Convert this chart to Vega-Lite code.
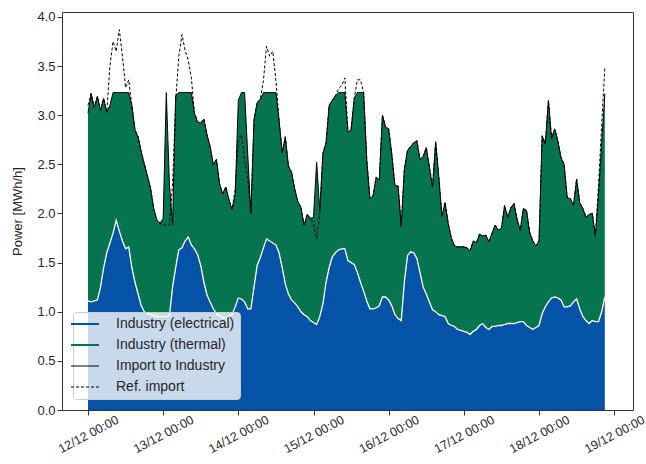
{
  "$schema": "https://vega.github.io/schema/vega-lite/v6.json",
  "width": 571,
  "height": 398,
  "autosize": {"type": "none"},
  "padding": {"left": 62, "top": 12, "right": 13, "bottom": 54},
  "background": "white",
  "config": {
    "font": "Liberation Sans",
    "view": {"stroke": "#333333", "strokeWidth": 1},
    "axis": {
      "grid": false,
      "domain": false,
      "tickColor": "#333333",
      "tickSize": 5,
      "labelColor": "#262626",
      "labelFontSize": 13,
      "titleColor": "#262626",
      "titleFontSize": 13,
      "titleFontWeight": "normal"
    }
  },
  "data": {
    "values": [
      {"time": "2021-12-12T00:00", "electrical": 1.11, "import": 3.02, "ref": 3.1},
      {"time": "2021-12-12T01:00", "electrical": 1.10, "import": 3.22, "ref": 3.22},
      {"time": "2021-12-12T02:00", "electrical": 1.11, "import": 3.08, "ref": 3.08},
      {"time": "2021-12-12T03:00", "electrical": 1.12, "import": 3.19, "ref": 3.19},
      {"time": "2021-12-12T04:00", "electrical": 1.25, "import": 3.05, "ref": 3.05},
      {"time": "2021-12-12T05:00", "electrical": 1.45, "import": 3.17, "ref": 3.17},
      {"time": "2021-12-12T06:00", "electrical": 1.6, "import": 3.03, "ref": 3.03},
      {"time": "2021-12-12T07:00", "electrical": 1.7, "import": 3.1, "ref": 3.5},
      {"time": "2021-12-12T08:00", "electrical": 1.8, "import": 3.23, "ref": 3.75},
      {"time": "2021-12-12T09:00", "electrical": 1.93, "import": 3.23, "ref": 3.65},
      {"time": "2021-12-12T10:00", "electrical": 1.82, "import": 3.23, "ref": 3.87},
      {"time": "2021-12-12T11:00", "electrical": 1.72, "import": 3.23, "ref": 3.6},
      {"time": "2021-12-12T12:00", "electrical": 1.64, "import": 3.23, "ref": 3.28},
      {"time": "2021-12-12T13:00", "electrical": 1.66, "import": 3.23, "ref": 3.36},
      {"time": "2021-12-12T14:00", "electrical": 1.45, "import": 3.1, "ref": 3.1},
      {"time": "2021-12-12T15:00", "electrical": 1.3, "import": 2.85, "ref": 2.85},
      {"time": "2021-12-12T16:00", "electrical": 1.18, "import": 2.78, "ref": 2.78},
      {"time": "2021-12-12T17:00", "electrical": 1.06, "import": 2.63, "ref": 2.63},
      {"time": "2021-12-12T18:00", "electrical": 1.0, "import": 2.5, "ref": 2.5},
      {"time": "2021-12-12T19:00", "electrical": 0.98, "import": 2.38, "ref": 2.38},
      {"time": "2021-12-12T20:00", "electrical": 0.97, "import": 2.25, "ref": 2.25},
      {"time": "2021-12-12T21:00", "electrical": 0.96, "import": 2.05, "ref": 2.05},
      {"time": "2021-12-12T22:00", "electrical": 0.95, "import": 1.93, "ref": 1.93},
      {"time": "2021-12-12T23:00", "electrical": 0.95, "import": 1.9, "ref": 1.9},
      {"time": "2021-12-13T00:00", "electrical": 0.95, "import": 1.95, "ref": 1.88},
      {"time": "2021-12-13T01:00", "electrical": 0.95, "import": 3.23, "ref": 1.88},
      {"time": "2021-12-13T02:00", "electrical": 0.96, "import": 2.3, "ref": 1.88},
      {"time": "2021-12-13T03:00", "electrical": 1.25, "import": 1.88, "ref": 2.3},
      {"time": "2021-12-13T04:00", "electrical": 1.45, "import": 3.2, "ref": 3.15},
      {"time": "2021-12-13T05:00", "electrical": 1.63, "import": 3.23, "ref": 3.6},
      {"time": "2021-12-13T06:00", "electrical": 1.65, "import": 3.23, "ref": 3.82},
      {"time": "2021-12-13T07:00", "electrical": 1.72, "import": 3.23, "ref": 3.66},
      {"time": "2021-12-13T08:00", "electrical": 1.76, "import": 3.23, "ref": 3.56},
      {"time": "2021-12-13T09:00", "electrical": 1.68, "import": 3.23, "ref": 3.38},
      {"time": "2021-12-13T10:00", "electrical": 1.64, "import": 3.02, "ref": 3.02},
      {"time": "2021-12-13T11:00", "electrical": 1.58, "import": 2.93, "ref": 2.93},
      {"time": "2021-12-13T12:00", "electrical": 1.47, "import": 2.92, "ref": 2.92},
      {"time": "2021-12-13T13:00", "electrical": 1.3, "import": 2.96, "ref": 2.96},
      {"time": "2021-12-13T14:00", "electrical": 1.17, "import": 2.8, "ref": 2.8},
      {"time": "2021-12-13T15:00", "electrical": 1.1, "import": 2.68, "ref": 2.68},
      {"time": "2021-12-13T16:00", "electrical": 1.03, "import": 2.5, "ref": 2.5},
      {"time": "2021-12-13T17:00", "electrical": 0.98, "import": 2.55, "ref": 2.55},
      {"time": "2021-12-13T18:00", "electrical": 0.96, "import": 2.3, "ref": 2.3},
      {"time": "2021-12-13T19:00", "electrical": 0.94, "import": 2.2, "ref": 2.2},
      {"time": "2021-12-13T20:00", "electrical": 0.94, "import": 2.27, "ref": 2.27},
      {"time": "2021-12-13T21:00", "electrical": 0.95, "import": 2.14, "ref": 2.14},
      {"time": "2021-12-13T22:00", "electrical": 0.97, "import": 2.04, "ref": 2.04},
      {"time": "2021-12-13T23:00", "electrical": 1.05, "import": 2.2, "ref": 2.25},
      {"time": "2021-12-14T00:00", "electrical": 1.14, "import": 3.15, "ref": 2.75},
      {"time": "2021-12-14T01:00", "electrical": 1.13, "import": 3.23, "ref": 2.8},
      {"time": "2021-12-14T02:00", "electrical": 1.1, "import": 3.23, "ref": 2.55},
      {"time": "2021-12-14T03:00", "electrical": 1.03, "import": 2.6, "ref": 2.35},
      {"time": "2021-12-14T04:00", "electrical": 1.03, "import": 2.0, "ref": 2.0},
      {"time": "2021-12-14T05:00", "electrical": 1.25, "import": 2.95, "ref": 2.95},
      {"time": "2021-12-14T06:00", "electrical": 1.47, "import": 3.13, "ref": 3.13},
      {"time": "2021-12-14T07:00", "electrical": 1.55, "import": 3.16, "ref": 3.16},
      {"time": "2021-12-14T08:00", "electrical": 1.65, "import": 3.23, "ref": 3.35},
      {"time": "2021-12-14T09:00", "electrical": 1.74, "import": 3.23, "ref": 3.7},
      {"time": "2021-12-14T10:00", "electrical": 1.72, "import": 3.23, "ref": 3.6},
      {"time": "2021-12-14T11:00", "electrical": 1.7, "import": 3.23, "ref": 3.65},
      {"time": "2021-12-14T12:00", "electrical": 1.68, "import": 3.23, "ref": 3.35},
      {"time": "2021-12-14T13:00", "electrical": 1.6, "import": 2.95, "ref": 2.95},
      {"time": "2021-12-14T14:00", "electrical": 1.45, "import": 2.62, "ref": 2.62},
      {"time": "2021-12-14T15:00", "electrical": 1.28, "import": 2.78, "ref": 2.78},
      {"time": "2021-12-14T16:00", "electrical": 1.18, "import": 2.48, "ref": 2.48},
      {"time": "2021-12-14T17:00", "electrical": 1.12, "import": 2.42, "ref": 2.42},
      {"time": "2021-12-14T18:00", "electrical": 1.09, "import": 2.25, "ref": 2.25},
      {"time": "2021-12-14T19:00", "electrical": 1.05, "import": 2.12, "ref": 2.12},
      {"time": "2021-12-14T20:00", "electrical": 1.0, "import": 2.06, "ref": 2.06},
      {"time": "2021-12-14T21:00", "electrical": 0.97, "import": 1.88, "ref": 1.88},
      {"time": "2021-12-14T22:00", "electrical": 0.95, "import": 1.99, "ref": 1.99},
      {"time": "2021-12-14T23:00", "electrical": 0.91, "import": 1.95, "ref": 1.95},
      {"time": "2021-12-15T00:00", "electrical": 0.89, "import": 1.96, "ref": 1.9},
      {"time": "2021-12-15T01:00", "electrical": 0.87, "import": 2.52, "ref": 1.74},
      {"time": "2021-12-15T02:00", "electrical": 0.95, "import": 2.03, "ref": 2.0},
      {"time": "2021-12-15T03:00", "electrical": 1.08, "import": 2.61, "ref": 2.61},
      {"time": "2021-12-15T04:00", "electrical": 1.3, "import": 2.72, "ref": 2.72},
      {"time": "2021-12-15T05:00", "electrical": 1.45, "import": 3.1, "ref": 3.1},
      {"time": "2021-12-15T06:00", "electrical": 1.56, "import": 3.15, "ref": 3.15},
      {"time": "2021-12-15T07:00", "electrical": 1.6, "import": 3.2, "ref": 3.2},
      {"time": "2021-12-15T08:00", "electrical": 1.63, "import": 3.23, "ref": 3.27},
      {"time": "2021-12-15T09:00", "electrical": 1.64, "import": 3.23, "ref": 3.3},
      {"time": "2021-12-15T10:00", "electrical": 1.64, "import": 3.23, "ref": 3.38},
      {"time": "2021-12-15T11:00", "electrical": 1.52, "import": 2.83, "ref": 2.83},
      {"time": "2021-12-15T12:00", "electrical": 1.5, "import": 2.85, "ref": 2.85},
      {"time": "2021-12-15T13:00", "electrical": 1.48, "import": 3.17, "ref": 3.17},
      {"time": "2021-12-15T14:00", "electrical": 1.4, "import": 3.23, "ref": 3.36},
      {"time": "2021-12-15T15:00", "electrical": 1.3, "import": 3.23, "ref": 3.36},
      {"time": "2021-12-15T16:00", "electrical": 1.21, "import": 3.23, "ref": 3.23},
      {"time": "2021-12-15T17:00", "electrical": 1.11, "import": 2.55, "ref": 2.55},
      {"time": "2021-12-15T18:00", "electrical": 1.03, "import": 2.15, "ref": 2.15},
      {"time": "2021-12-15T19:00", "electrical": 1.03, "import": 2.18, "ref": 2.18},
      {"time": "2021-12-15T20:00", "electrical": 1.04, "import": 2.37, "ref": 2.37},
      {"time": "2021-12-15T21:00", "electrical": 1.06, "import": 2.34, "ref": 2.34},
      {"time": "2021-12-15T22:00", "electrical": 1.15, "import": 3.0, "ref": 3.0},
      {"time": "2021-12-15T23:00", "electrical": 1.15, "import": 2.88, "ref": 2.88},
      {"time": "2021-12-16T00:00", "electrical": 1.12, "import": 2.86, "ref": 2.86},
      {"time": "2021-12-16T01:00", "electrical": 1.06, "import": 2.6, "ref": 2.6},
      {"time": "2021-12-16T02:00", "electrical": 0.97, "import": 2.28, "ref": 2.28},
      {"time": "2021-12-16T03:00", "electrical": 0.93, "import": 2.28, "ref": 2.28},
      {"time": "2021-12-16T04:00", "electrical": 0.91, "import": 1.87, "ref": 1.87},
      {"time": "2021-12-16T05:00", "electrical": 1.3, "import": 2.45, "ref": 2.45},
      {"time": "2021-12-16T06:00", "electrical": 1.57, "import": 2.64, "ref": 2.64},
      {"time": "2021-12-16T07:00", "electrical": 1.61, "import": 2.68, "ref": 2.68},
      {"time": "2021-12-16T08:00", "electrical": 1.6, "import": 2.72, "ref": 2.72},
      {"time": "2021-12-16T09:00", "electrical": 1.54, "import": 2.74, "ref": 2.74},
      {"time": "2021-12-16T10:00", "electrical": 1.4, "import": 2.55, "ref": 2.55},
      {"time": "2021-12-16T11:00", "electrical": 1.25, "import": 2.58, "ref": 2.58},
      {"time": "2021-12-16T12:00", "electrical": 1.18, "import": 2.67, "ref": 2.67},
      {"time": "2021-12-16T13:00", "electrical": 1.1, "import": 2.47, "ref": 2.47},
      {"time": "2021-12-16T14:00", "electrical": 1.02, "import": 2.27, "ref": 2.27},
      {"time": "2021-12-16T15:00", "electrical": 1.0, "import": 2.73, "ref": 2.73},
      {"time": "2021-12-16T16:00", "electrical": 0.97, "import": 2.37, "ref": 2.37},
      {"time": "2021-12-16T17:00", "electrical": 0.96, "import": 1.97, "ref": 1.97},
      {"time": "2021-12-16T18:00", "electrical": 0.95, "import": 2.11, "ref": 2.11},
      {"time": "2021-12-16T19:00", "electrical": 0.88, "import": 1.9, "ref": 1.9},
      {"time": "2021-12-16T20:00", "electrical": 0.86, "import": 1.75, "ref": 1.75},
      {"time": "2021-12-16T21:00", "electrical": 0.85, "import": 1.67, "ref": 1.67},
      {"time": "2021-12-16T22:00", "electrical": 0.82, "import": 1.66, "ref": 1.66},
      {"time": "2021-12-16T23:00", "electrical": 0.81, "import": 1.66, "ref": 1.66},
      {"time": "2021-12-17T00:00", "electrical": 0.8, "import": 1.66, "ref": 1.66},
      {"time": "2021-12-17T01:00", "electrical": 0.79, "import": 1.65, "ref": 1.65},
      {"time": "2021-12-17T02:00", "electrical": 0.77, "import": 1.62, "ref": 1.62},
      {"time": "2021-12-17T03:00", "electrical": 0.8, "import": 1.72, "ref": 1.72},
      {"time": "2021-12-17T04:00", "electrical": 0.82, "import": 1.7, "ref": 1.7},
      {"time": "2021-12-17T05:00", "electrical": 0.86, "import": 1.79, "ref": 1.79},
      {"time": "2021-12-17T06:00", "electrical": 0.88, "import": 1.77, "ref": 1.77},
      {"time": "2021-12-17T07:00", "electrical": 0.84, "import": 1.78, "ref": 1.78},
      {"time": "2021-12-17T08:00", "electrical": 0.82, "import": 1.71, "ref": 1.71},
      {"time": "2021-12-17T09:00", "electrical": 0.85, "import": 1.8, "ref": 1.8},
      {"time": "2021-12-17T10:00", "electrical": 0.85, "import": 1.88, "ref": 1.88},
      {"time": "2021-12-17T11:00", "electrical": 0.86, "import": 1.83, "ref": 1.83},
      {"time": "2021-12-17T12:00", "electrical": 0.86, "import": 1.85, "ref": 1.85},
      {"time": "2021-12-17T13:00", "electrical": 0.87, "import": 2.08, "ref": 2.08},
      {"time": "2021-12-17T14:00", "electrical": 0.88, "import": 1.96, "ref": 1.96},
      {"time": "2021-12-17T15:00", "electrical": 0.88, "import": 2.06, "ref": 2.06},
      {"time": "2021-12-17T16:00", "electrical": 0.88, "import": 2.1, "ref": 2.1},
      {"time": "2021-12-17T17:00", "electrical": 0.89, "import": 1.94, "ref": 1.94},
      {"time": "2021-12-17T18:00", "electrical": 0.9, "import": 1.83, "ref": 1.83},
      {"time": "2021-12-17T19:00", "electrical": 0.9, "import": 2.05, "ref": 2.05},
      {"time": "2021-12-17T20:00", "electrical": 0.86, "import": 2.03, "ref": 2.03},
      {"time": "2021-12-17T21:00", "electrical": 0.84, "import": 1.81, "ref": 1.81},
      {"time": "2021-12-17T22:00", "electrical": 0.82, "import": 1.72, "ref": 1.72},
      {"time": "2021-12-17T23:00", "electrical": 0.84, "import": 1.67, "ref": 1.67},
      {"time": "2021-12-18T00:00", "electrical": 0.86, "import": 1.72, "ref": 1.72},
      {"time": "2021-12-18T01:00", "electrical": 0.98, "import": 2.79, "ref": 2.79},
      {"time": "2021-12-18T02:00", "electrical": 1.05, "import": 2.71, "ref": 2.71},
      {"time": "2021-12-18T03:00", "electrical": 1.1, "import": 3.15, "ref": 3.15},
      {"time": "2021-12-18T04:00", "electrical": 1.14, "import": 2.76, "ref": 2.76},
      {"time": "2021-12-18T05:00", "electrical": 1.15, "import": 2.86, "ref": 2.86},
      {"time": "2021-12-18T06:00", "electrical": 1.14, "import": 2.74, "ref": 2.74},
      {"time": "2021-12-18T07:00", "electrical": 1.12, "import": 2.57, "ref": 2.57},
      {"time": "2021-12-18T08:00", "electrical": 1.05, "import": 2.5, "ref": 2.5},
      {"time": "2021-12-18T09:00", "electrical": 1.05, "import": 2.16, "ref": 2.16},
      {"time": "2021-12-18T10:00", "electrical": 1.06, "import": 2.15, "ref": 2.15},
      {"time": "2021-12-18T11:00", "electrical": 1.1, "import": 2.08, "ref": 2.08},
      {"time": "2021-12-18T12:00", "electrical": 1.13, "import": 2.35, "ref": 2.35},
      {"time": "2021-12-18T13:00", "electrical": 1.03, "import": 2.11, "ref": 2.11},
      {"time": "2021-12-18T14:00", "electrical": 0.95, "import": 2.05, "ref": 2.05},
      {"time": "2021-12-18T15:00", "electrical": 0.91, "import": 1.96, "ref": 1.96},
      {"time": "2021-12-18T16:00", "electrical": 0.88, "import": 1.99, "ref": 1.99},
      {"time": "2021-12-18T17:00", "electrical": 0.91, "import": 2.0, "ref": 2.0},
      {"time": "2021-12-18T18:00", "electrical": 0.9, "import": 1.77, "ref": 1.77},
      {"time": "2021-12-18T19:00", "electrical": 0.9, "import": 2.2, "ref": 2.3},
      {"time": "2021-12-18T20:00", "electrical": 1.0, "import": 2.72, "ref": 2.9},
      {"time": "2021-12-18T21:00", "electrical": 1.15, "import": 3.22, "ref": 3.48}
    ]
  },
  "encoding": {
    "x": {
      "field": "time",
      "type": "temporal",
      "scale": {
        "domain": [
          {"year": 2021, "month": 12, "date": 11, "hours": 15, "minutes": 42},
          {"year": 2021, "month": 12, "date": 19, "hours": 6, "minutes": 0}
        ]
      },
      "axis": {
        "title": null,
        "values": [
          {"year": 2021, "month": 12, "date": 12},
          {"year": 2021, "month": 12, "date": 13},
          {"year": 2021, "month": 12, "date": 14},
          {"year": 2021, "month": 12, "date": 15},
          {"year": 2021, "month": 12, "date": 16},
          {"year": 2021, "month": 12, "date": 17},
          {"year": 2021, "month": 12, "date": 18},
          {"year": 2021, "month": 12, "date": 19}
        ],
        "format": "%d/%m %H:%M",
        "labelAngle": -28,
        "labelAlign": "center",
        "labelBaseline": "middle",
        "labelPadding": 19,
        "labelFontSize": 12.5,
        "labelFlush": false,
        "labelOverlap": false
      }
    }
  },
  "layer": [
    {
      "mark": {"type": "area", "interpolate": "linear"},
      "encoding": {
        "y": {
          "field": "electrical",
          "type": "quantitative",
          "scale": {"domain": [0, 4.05], "nice": false, "zero": true},
          "axis": {
            "title": "Power [MWh/h]",
            "values": [0, 0.5, 1, 1.5, 2, 2.5, 3, 3.5, 4],
            "format": ".1f",
            "titlePadding": 12
          }
        },
        "color": {
          "datum": "Industry (electrical)",
          "type": "nominal",
          "scale": {
            "domain": ["Industry (electrical)", "Industry (thermal)", "Import to Industry", "Ref. import"],
            "range": ["#0553a6", "#05744f", "#000000", "#000000"]
          },
          "legend": {
            "title": null,
            "orient": "none",
            "legendX": 11,
            "legendY": 300,
            "symbolType": "stroke",
            "symbolSize": 784,
            "symbolStrokeWidth": 1.6,
            "labelFontSize": 14,
            "labelColor": "#262626",
            "labelOffset": 24,
            "rowPadding": 7,
            "padding": 5,
            "fillColor": "rgba(255,255,255,0.78)",
            "strokeColor": "#cccccc",
            "cornerRadius": 3,
            "encode": {
              "symbols": {
                "update": {
                  "stroke": {"scale": "color", "field": "value"},
                  "fill": {"value": "transparent"},
                  "strokeWidth": {"signal": "(datum.value === 'Import to Industry' || datum.value === 'Ref. import') ? 1 : 1.8"},
                  "strokeDash": {"signal": "datum.value === 'Ref. import' ? [3, 2] : [1, 0]"}
                }
              }
            }
          }
        }
      }
    },
    {
      "mark": {"type": "area", "interpolate": "linear"},
      "encoding": {
        "y": {"field": "import", "type": "quantitative"},
        "y2": {"field": "electrical"},
        "color": {"datum": "Industry (thermal)", "type": "nominal"}
      }
    },
    {
      "mark": {"type": "line", "color": "white", "strokeWidth": 1.3},
      "encoding": {
        "y": {"field": "electrical", "type": "quantitative"}
      }
    },
    {
      "mark": {"type": "line", "strokeWidth": 1},
      "encoding": {
        "y": {"field": "import", "type": "quantitative"},
        "color": {"datum": "Import to Industry", "type": "nominal"}
      }
    },
    {
      "mark": {"type": "line", "strokeWidth": 1, "strokeDash": [3, 2]},
      "encoding": {
        "y": {"field": "ref", "type": "quantitative"},
        "color": {"datum": "Ref. import", "type": "nominal"}
      }
    }
  ]
}
